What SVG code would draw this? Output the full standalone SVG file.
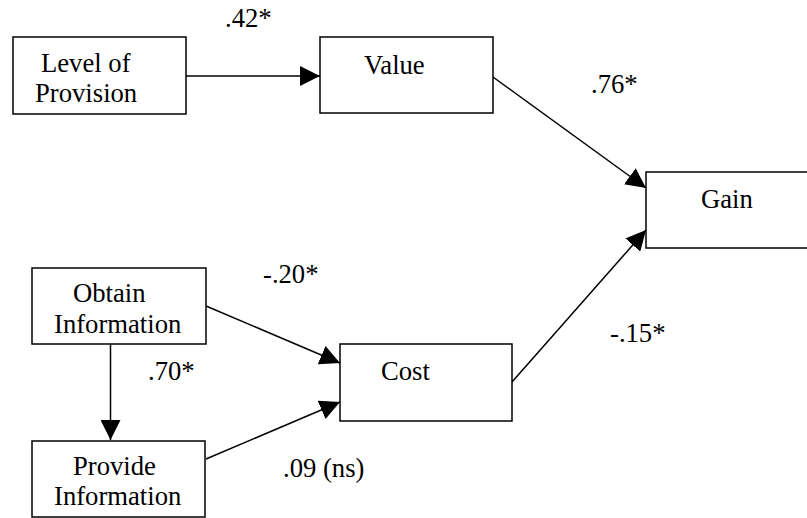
<svg xmlns="http://www.w3.org/2000/svg" width="807" height="518" viewBox="0 0 807 518">
<style>
.box{fill:#fff;stroke:#000;stroke-width:1.5}
.e{fill:none;stroke:#000;stroke-width:1.5}
</style>
<defs>
<marker id="ah" viewBox="0 0 20 20" refX="20" refY="10" markerWidth="20" markerHeight="20" markerUnits="userSpaceOnUse" orient="auto">
<path d="M0,0 L20,10 L0,20 z" fill="#000"/>
</marker>
</defs>
<rect width="807" height="518" fill="#fff"/>
<g id="connectors">
<line class="e" x1="186" y1="76" x2="320" y2="76" marker-end="url(#ah)"/>
<line class="e" x1="493" y1="77" x2="646" y2="188" marker-end="url(#ah)"/>
<line class="e" x1="512" y1="382" x2="646" y2="230" marker-end="url(#ah)"/>
<line class="e" x1="206" y1="306" x2="340" y2="363" marker-end="url(#ah)"/>
<line class="e" x1="206" y1="459" x2="340" y2="402" marker-end="url(#ah)"/>
<line class="e" x1="110.5" y1="344" x2="110.5" y2="440" marker-end="url(#ah)"/>
</g>
<g font-family="Liberation Serif" font-size="26.67" fill="#000">
<g id="level">
<rect class="box" x="13" y="37" width="173" height="77"/>
<text x="41" y="72">Level of</text>
<text x="35" y="102">Provision</text>
</g>
<g id="value">
<rect class="box" x="320" y="37" width="173" height="76"/>
<text x="364" y="74">Value</text>
</g>
<g id="gain">
<rect class="box" x="646" y="172" width="170" height="76"/>
<text x="701" y="208">Gain</text>
</g>
<g id="obtain">
<rect class="box" x="32" y="268" width="174" height="76"/>
<text x="73" y="302">Obtain</text>
<text x="54" y="333">Information</text>
</g>
<g id="cost">
<rect class="box" x="340" y="344" width="172" height="77"/>
<text x="381" y="380">Cost</text>
</g>
<g id="provide">
<rect class="box" x="32" y="441" width="173" height="76"/>
<text x="73" y="475">Provide</text>
<text x="54" y="505">Information</text>
</g>
<g id="labels">
<text x="225" y="27">.42*</text>
<text x="591" y="93">.76*</text>
<text x="263" y="283">-.20*</text>
<text x="148" y="380">.70*</text>
<text x="283" y="477">.09 (ns)</text>
<text x="610" y="342">-.15*</text>
</g>
</g>
</svg>
